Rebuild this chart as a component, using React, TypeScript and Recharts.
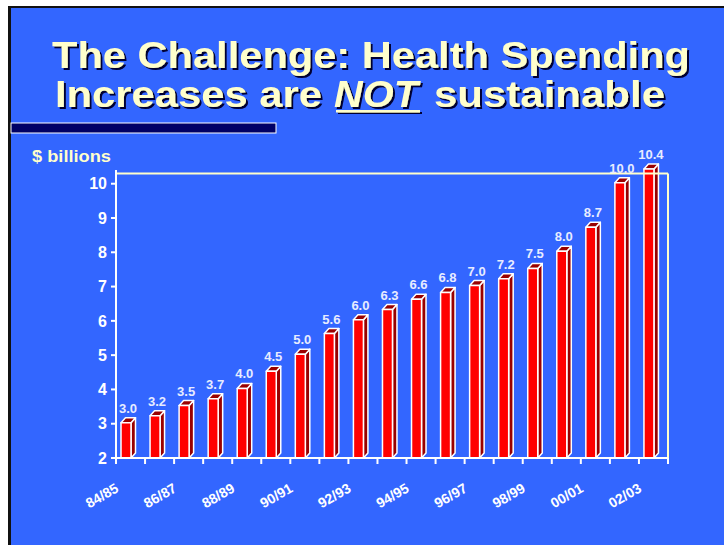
import React from 'react'
import { BarChart, Bar, XAxis, YAxis, LabelList, ReferenceLine } from 'recharts'

const seasons = [
  '84/85', '85/86', '86/87', '87/88', '88/89', '89/90', '90/91', '91/92', '92/93', '93/94',
  '94/95', '95/96', '96/97', '97/98', '98/99', '99/00', '00/01', '01/02', '02/03',
]
const spending = [3.0, 3.2, 3.5, 3.7, 4.0, 4.5, 5.0, 5.6, 6.0, 6.3, 6.6, 6.8, 7.0, 7.2, 7.5, 8.0, 8.7, 10.0, 10.4]
const yTicks = [2, 3, 4, 5, 6, 7, 8, 9, 10]
const boxTop = 10.3

const data = seasons.map((season, i) => ({ season, pos: i + 0.5, value: spending[i] }))
// tick lines sit on the category edges, labels on the centres
const xTicks = seasons.flatMap((_, i) => [i, i + 0.5]).concat(seasons.length)

const FONT = '"Liberation Sans", Arial, sans-serif'
const CREAM = '#FFFFCC'

// 3D-looking bar: front face, top face and right side
function Bar3D(props: any) {
  const { x, y, width, height } = props
  if (height == null || width == null) return null
  const d = 4.5
  const dy = 5
  const fx = x - width / 2
  const ft = y - 1
  const fb = y + height
  const w = width
  return (
    <g stroke="#fff" strokeWidth={1.5} strokeLinejoin="round">
      <polygon
        points={`${fx + w},${ft} ${fx + w + d},${ft - dy} ${fx + w + d},${fb - dy} ${fx + w},${fb}`}
        fill="#990000"
      />
      <polygon
        points={`${fx},${ft} ${fx + d},${ft - dy} ${fx + w + d},${ft - dy} ${fx + w},${ft}`}
        fill="#990000"
      />
      <rect x={fx} y={ft} width={w} height={fb - ft} fill="#ff0000" />
    </g>
  )
}

function ValueLabel(props: any) {
  const vb = props.viewBox && props.viewBox.width != null ? props.viewBox : props
  const { x, y, width } = vb
  return (
    <text
      x={x + width / 2 - 3}
      y={y - 11}
      textAnchor="middle"
      fill="#e8ecff"
      fontSize={13}
      fontWeight="bold"
      fontFamily={FONT}
    >
      {Number(props.value).toFixed(1)}
    </text>
  )
}

function XTick(props: any) {
  const { x, y, payload } = props
  const v = payload.value
  if (Number.isInteger(v)) {
    return <line x1={x} y1={y} x2={x} y2={y + 6} stroke="#fff" strokeWidth={2} />
  }
  const i = Math.round(v - 0.5)
  if (i % 2 !== 0) return <g />
  const tx = x - 11
  const ty = y + 33
  return (
    <text
      x={tx}
      y={ty}
      transform={`rotate(-30, ${tx}, ${ty})`}
      textAnchor="end"
      fill="#fff"
      fontSize={14}
      fontWeight="bold"
      fontFamily={FONT}
    >
      {seasons[i]}
    </text>
  )
}

function TitleText({ x, y, len, children, italic }: any) {
  return (
    <text
      x={x}
      y={y}
      fill={CREAM}
      fontSize={37}
      fontWeight="bold"
      fontFamily={FONT}
      fontStyle={italic ? 'italic' : 'normal'}
      textLength={len}
      lengthAdjust="spacingAndGlyphs"
      filter="url(#titleShadow)"
    >
      {children}
    </text>
  )
}

export default function App() {
  return (
    <>
      <div
        style={{
          position: 'fixed', left: 8, top: 6, right: 0, bottom: 0,
          background: '#3366FF', borderLeft: '3px solid #111', borderTop: '2px solid #111',
        }}
      />
      <svg width={724} height={545} style={{ position: 'fixed', left: 0, top: 0 }}>
        <defs>
          <filter id="titleShadow" x="-5%" y="-20%" width="115%" height="150%">
            <feDropShadow dx={2} dy={2} stdDeviation={0} floodColor="#000033" floodOpacity={1} />
          </filter>
        </defs>
        <TitleText x={52} y={68} len={638}>The Challenge: Health Spending</TitleText>
        <TitleText x={55} y={107} len={267}>Increases are</TitleText>
        <TitleText x={334} y={107} len={84} italic>NOT</TitleText>
        <rect x={336} y={110} width={84} height={2.5} fill={CREAM} filter="url(#titleShadow)" />
        <TitleText x={434} y={107} len={231}>sustainable</TitleText>
        <rect x={11} y={123} width={265} height={10} fill="#000066" stroke="#fff" strokeWidth={1} />
        <text x={32} y={162} fill={CREAM} fontSize={17} fontWeight="bold" fontFamily={FONT} textLength={79} lengthAdjust="spacingAndGlyphs">
          $ billions
        </text>
      </svg>
      <div style={{ position: 'fixed', left: 0, top: 0 }}>
        <BarChart width={724} height={545} data={data} margin={{ top: 170, right: 56, bottom: 27, left: 56 }}>
          <XAxis
            type="number"
            dataKey="pos"
            domain={[0, seasons.length]}
            ticks={xTicks}
            interval={0}
            tick={<XTick />}
            tickLine={false}
            tickSize={0}
            tickMargin={0}
            axisLine={{ stroke: '#fff', strokeWidth: 2 }}
            height={60}
          />
          <YAxis
            type="number"
            domain={[2, 10.4]}
            ticks={yTicks}
            interval={0}
            width={60}
            axisLine={{ stroke: '#fff', strokeWidth: 2 }}
            tickLine={{ stroke: '#fff', strokeWidth: 2 }}
            tickSize={5}
            tickMargin={4}
            tick={{ fill: '#fff', fontSize: 16, fontWeight: 'bold', fontFamily: FONT }}
          />
          <ReferenceLine segment={[{ x: 0, y: boxTop }, { x: seasons.length, y: boxTop }]} stroke={CREAM} strokeWidth={2} />
          <ReferenceLine segment={[{ x: seasons.length, y: 2 }, { x: seasons.length, y: boxTop }]} stroke={CREAM} strokeWidth={2} />
          <Bar dataKey="value" barSize={10} shape={Bar3D} isAnimationActive={false}>
            <LabelList dataKey="value" content={ValueLabel} />
          </Bar>
        </BarChart>
      </div>
    </>
  )
}
